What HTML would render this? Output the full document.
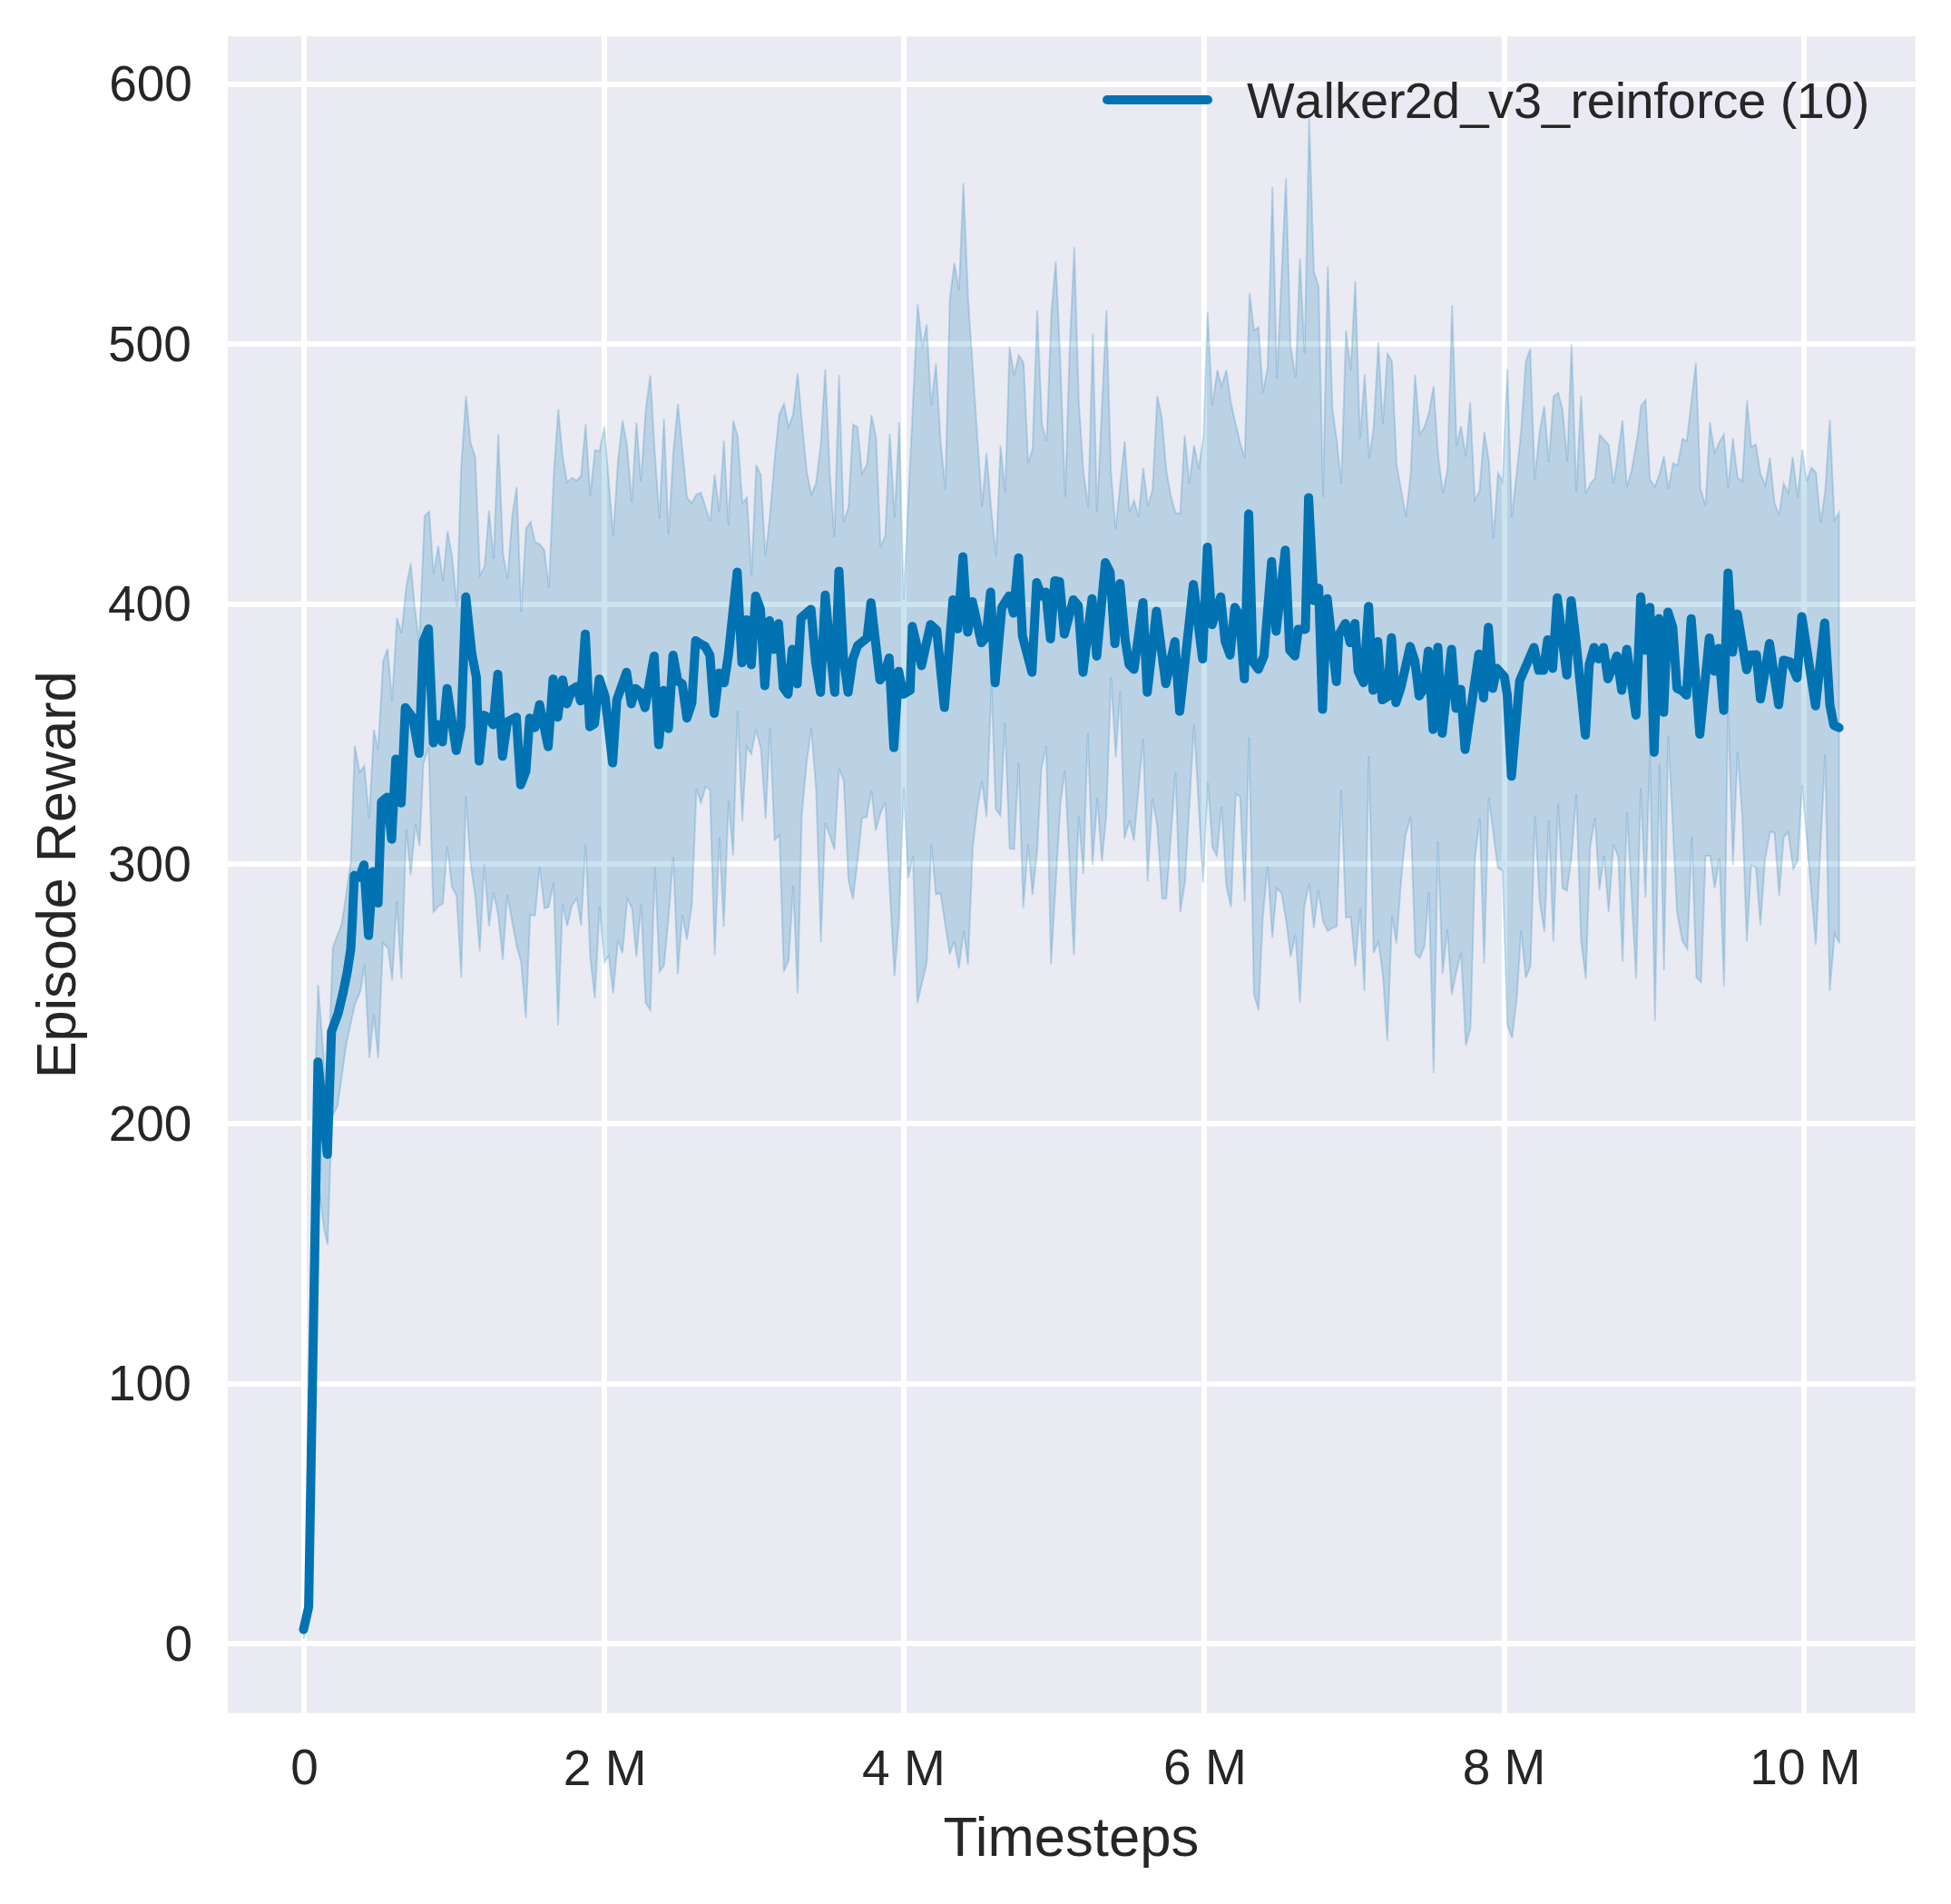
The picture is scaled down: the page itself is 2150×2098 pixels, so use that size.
<!DOCTYPE html>
<html><head><meta charset="utf-8"><style>
html,body{margin:0;padding:0;background:#fff;}
svg{display:block;}
text{font-family:"Liberation Sans",sans-serif;fill:#262626;}
</style></head><body>
<svg width="2150" height="2098" viewBox="0 0 2150 2098">
<rect x="251.0" y="40.1" width="1859.8" height="1847.6" fill="#EAEAF2"/>
<g fill="#fff"><rect x="251.0" y="1808" width="1859.80" height="6"/><rect x="251.0" y="1522" width="1859.80" height="6"/><rect x="251.0" y="1235" width="1859.80" height="6"/><rect x="251.0" y="949" width="1859.80" height="6"/><rect x="251.0" y="663" width="1859.80" height="6"/><rect x="251.0" y="376" width="1859.80" height="6"/><rect x="251.0" y="90" width="1859.80" height="6"/><rect x="332" y="40.1" width="6" height="1847.55"/><rect x="663" y="40.1" width="6" height="1847.55"/><rect x="993" y="40.1" width="6" height="1847.55"/><rect x="1324" y="40.1" width="6" height="1847.55"/><rect x="1655" y="40.1" width="6" height="1847.55"/><rect x="1985" y="40.1" width="6" height="1847.55"/></g>
<polygon points="334.7,1803.0 340.1,1775.0 345.5,1250.0 350.6,1085.0 360.5,1215.0 366.8,1044.0 376.2,1019.0 379.4,1000.0 381.5,985.0 386.5,950.0 391.0,821.7 396.3,851.0 401.5,843.8 406.8,901.6 412.0,803.9 416.6,826.0 422.2,728.6 427.1,714.9 432.1,772.7 437.4,681.1 442.5,697.7 447.6,646.9 452.7,620.9 456.8,666.8 461.9,708.7 467.9,568.6 473.0,563.5 477.8,632.6 482.9,601.7 488.2,640.3 493.2,585.2 498.3,613.8 503.6,669.0 508.0,519.0 513.5,436.3 518.6,488.1 523.7,503.5 529.0,633.7 534.1,623.8 538.9,562.7 544.0,616.0 549.1,478.2 554.4,610.5 559.4,638.1 564.3,569.7 569.4,536.6 574.4,674.5 579.7,581.9 584.8,575.2 589.7,597.3 594.7,599.5 599.8,606.1 604.9,648.0 610.2,523.4 615.2,451.0 620.1,503.5 625.0,531.7 630.3,526.4 635.5,529.6 640.3,524.3 645.4,467.6 650.4,546.4 655.7,496.0 660.7,497.0 666.0,470.3 670.8,529.6 675.8,590.5 681.1,506.5 686.1,463.4 691.2,491.8 696.2,553.7 701.3,465.5 706.3,530.6 711.6,451.8 716.6,413.6 721.6,498.1 726.7,572.0 731.7,461.3 736.8,589.5 742.0,498.1 747.1,445.1 752.1,496.0 757.1,548.5 762.2,554.4 767.4,544.9 772.5,542.8 777.5,559.0 782.6,574.7 787.6,522.9 792.6,563.8 797.7,485.5 802.7,578.9 808.0,463.4 813.0,481.3 818.1,554.4 823.1,548.1 828.2,633.6 833.4,512.4 838.4,523.3 843.5,613.2 848.5,567.4 853.6,506.5 858.6,456.7 863.9,445.1 868.9,470.3 873.9,457.1 879.0,411.5 884.0,467.6 889.1,520.1 894.1,544.9 899.2,532.7 904.4,490.7 909.4,406.7 914.5,521.2 919.5,591.6 924.6,413.0 929.7,575.2 935.0,559.0 940.1,467.7 945.0,470.7 950.0,522.0 955.4,511.6 960.4,457.3 965.5,482.7 970.4,602.9 975.5,590.2 980.5,478.1 985.9,570.6 991.0,465.4 995.8,661.0 1011.3,335.3 1016.4,382.2 1021.2,357.5 1026.3,446.9 1031.4,400.7 1036.7,487.4 1041.8,539.4 1046.6,330.2 1051.7,289.8 1056.8,319.8 1061.7,202.0 1066.8,327.9 1082.2,557.9 1087.1,498.9 1092.2,559.0 1097.5,613.3 1102.6,490.8 1107.7,542.8 1112.5,382.2 1117.6,413.4 1122.7,391.5 1128.0,399.5 1133.1,510.5 1137.9,494.3 1143.0,341.8 1148.3,467.7 1153.4,486.2 1158.5,346.4 1163.4,287.5 1168.4,394.9 1173.8,547.5 1178.8,383.4 1183.9,272.4 1188.8,441.2 1193.9,519.7 1199.2,559.0 1204.3,367.2 1208.9,564.8 1219.3,341.8 1224.2,518.3 1229.4,583.4 1239.4,486.2 1244.7,564.5 1249.7,551.4 1254.7,569.7 1259.9,515.7 1265.1,557.7 1270.1,539.3 1275.3,436.2 1280.3,459.9 1285.3,518.3 1290.3,546.6 1295.4,565.0 1300.6,566.1 1305.5,479.4 1310.7,533.2 1315.9,490.6 1320.9,516.6 1326.1,482.3 1330.8,344.0 1336.0,446.9 1341.5,407.9 1346.2,425.6 1351.4,407.9 1356.4,443.3 1361.6,467.0 1366.8,488.2 1371.7,504.8 1377.0,322.8 1381.9,364.1 1386.9,360.6 1391.8,432.7 1397.0,404.3 1402.2,205.7 1407.2,417.3 1417.1,196.3 1422.3,381.9 1427.8,416.1 1432.5,284.9 1437.7,389.0 1442.7,130.1 1447.9,299.1 1453.1,315.7 1458.0,547.4 1463.2,293.2 1468.4,450.4 1473.2,485.9 1478.1,533.2 1483.3,364.1 1488.5,407.9 1493.5,309.8 1498.7,483.5 1503.9,412.6 1508.9,504.8 1513.8,470.5 1518.9,377.1 1523.9,467.4 1529.0,389.7 1534.0,398.1 1539.0,511.5 1544.3,540.9 1549.3,569.3 1554.4,524.1 1559.4,412.8 1564.7,478.9 1569.7,470.5 1574.7,454.8 1579.8,425.4 1584.8,501.0 1590.1,543.0 1595.1,517.8 1600.2,336.1 1605.2,491.6 1610.0,469.5 1615.3,503.1 1620.1,443.2 1625.2,551.4 1630.4,540.9 1635.7,475.8 1640.7,507.3 1645.8,593.4 1650.8,521.0 1655.8,530.4 1661.1,406.5 1666.1,570.3 1676.2,475.8 1681.5,398.1 1686.3,384.4 1691.3,528.3 1696.6,475.8 1701.8,447.4 1706.7,509.4 1711.9,436.9 1717.2,432.7 1722.0,451.6 1727.1,508.4 1731.9,379.2 1737.1,542.0 1742.4,435.9 1747.6,544.1 1752.9,532.5 1757.7,527.3 1762.8,478.9 1772.9,490.5 1778.1,533.6 1782.9,501.0 1788.0,463.2 1792.8,536.7 1798.1,517.8 1805.0,477.9 1808.4,447.2 1813.4,440.5 1818.2,527.9 1823.5,536.3 1828.6,522.9 1833.6,502.7 1838.7,538.8 1843.7,510.3 1848.7,512.8 1854.1,483.4 1858.8,485.9 1868.9,399.8 1873.9,538.0 1879.5,557.3 1884.4,465.4 1889.4,498.5 1894.5,487.6 1899.7,478.8 1904.5,538.0 1909.6,482.9 1914.8,526.2 1920.0,530.4 1925.2,441.3 1929.9,492.6 1935.0,489.6 1940.0,522.0 1945.4,534.6 1950.4,504.4 1955.5,553.9 1960.5,567.9 1965.5,532.9 1970.6,543.0 1975.6,503.5 1981.0,548.9 1986.1,495.1 1991.1,530.4 1996.1,515.3 2001.2,520.8 2006.4,575.8 2011.4,540.5 2016.5,462.4 2021.5,573.3 2026.6,564.9 2026.8,1039.0 2021.7,1029.1 2016.4,1092.0 2011.3,830.7 2001.0,1041.2 1986.0,864.9 1981.1,948.6 1976.1,957.5 1970.5,916.7 1965.7,922.9 1960.6,987.2 1955.6,917.8 1950.7,916.2 1945.2,946.4 1940.0,1019.5 1935.0,955.8 1929.8,953.3 1925.0,1037.2 1920.0,899.5 1914.8,828.8 1909.7,953.3 1904.3,777.5 1899.9,1086.9 1894.8,945.1 1889.6,978.7 1884.7,943.0 1879.5,943.0 1874.7,1082.3 1869.4,1077.4 1864.4,922.0 1859.5,1046.0 1853.9,1036.5 1848.0,1005.0 1838.5,811.0 1833.7,1069.0 1828.7,842.6 1823.8,1124.7 1818.2,831.0 1813.3,989.2 1808.1,868.4 1803.0,1078.5 1792.9,894.7 1788.1,1059.6 1783.3,944.0 1778.0,930.4 1772.8,1005.0 1767.5,943.0 1762.5,980.8 1757.6,901.0 1752.4,933.5 1747.6,1078.5 1742.3,1036.5 1737.1,874.7 1731.8,945.1 1726.8,981.4 1721.9,978.7 1717.1,885.2 1711.8,1037.5 1706.8,904.1 1702.0,1027.0 1696.7,993.4 1691.5,899.9 1686.6,1064.8 1681.4,1077.4 1676.3,1024.9 1671.5,1100.5 1666.3,1143.6 1661.0,1128.9 1655.8,959.8 1650.5,955.6 1640.6,878.9 1635.5,1061.7 1630.7,901.0 1625.5,945.1 1620.6,1132.1 1615.4,1152.0 1610.1,1050.1 1605.1,1070.1 1599.8,1096.3 1595.0,1023.9 1589.7,1073.2 1584.5,926.8 1579.9,1182.5 1574.6,982.9 1569.8,1042.8 1564.5,1055.4 1559.7,1051.2 1554.5,899.9 1548.8,920.9 1543.9,972.4 1538.9,1039.6 1534.1,1009.2 1528.8,1146.8 1524.0,1075.3 1519.0,1037.5 1513.7,1050.1 1508.4,833.1 1503.6,1092.1 1498.8,1000.8 1493.5,1064.8 1488.5,1010.2 1483.2,1011.3 1478.0,870.5 1473.2,1020.7 1467.9,1022.8 1463.1,1026.0 1458.0,1015.5 1452.8,980.8 1447.9,1022.8 1442.7,973.4 1437.4,998.7 1432.6,1104.7 1427.6,1030.2 1422.3,1054.3 1417.5,1015.5 1412.2,984.0 1407.0,978.7 1402.1,1033.3 1396.9,954.5 1391.6,1011.3 1387.0,1113.2 1381.8,1095.3 1376.5,812.0 1371.7,993.4 1366.6,877.9 1361.8,874.7 1356.6,999.7 1351.3,975.5 1346.2,888.8 1341.0,943.0 1336.1,933.6 1331.1,862.6 1325.8,972.4 1315.8,798.5 1305.9,971.4 1300.6,1005.0 1295.4,851.0 1285.3,990.3 1280.7,990.3 1275.2,909.4 1270.0,880.0 1264.7,971.4 1259.7,814.2 1249.6,926.2 1244.7,904.2 1239.1,924.1 1234.5,761.7 1229.6,834.2 1224.4,746.0 1219.1,899.3 1214.3,949.3 1209.2,879.4 1204.0,953.5 1198.7,807.9 1193.9,963.0 1188.7,898.9 1183.4,1052.3 1173.5,848.9 1168.7,884.6 1158.2,1062.8 1152.9,821.6 1147.7,846.8 1142.9,938.8 1137.8,986.1 1133.0,930.4 1127.7,1000.8 1122.5,840.5 1117.6,935.7 1112.6,935.0 1107.4,796.4 1102.5,898.9 1097.3,891.6 1092.6,755.4 1087.2,900.0 1082.1,860.5 1077.3,888.8 1072.1,932.5 1066.8,1062.8 1062.0,1026.0 1056.7,1067.0 1051.6,1037.0 1046.6,1051.7 1041.5,1018.0 1036.5,984.5 1031.3,985.5 1026.4,929.8 1021.4,1060.1 1016.1,1083.0 1010.9,1105.3 1006.1,943.5 1000.8,967.6 996.0,868.9 990.7,1011.8 985.7,1075.8 980.5,980.0 975.6,883.6 970.3,896.2 965.1,915.1 960.3,871.0 955.0,900.4 950.0,901.5 945.1,948.7 939.9,990.8 935.0,969.7 929.8,860.5 924.7,846.8 919.5,936.1 914.5,921.0 909.4,906.7 904.6,1038.0 899.5,873.1 894.1,802.7 889.0,839.5 883.6,898.3 879.0,1094.7 874.1,976.0 869.1,1058.0 863.8,1070.6 859.0,920.4 853.7,925.6 848.5,802.7 843.7,902.5 838.6,825.8 833.2,803.8 827.9,831.1 822.9,822.7 818.0,904.6 812.8,782.8 807.9,942.4 802.9,882.6 797.6,1021.2 792.8,922.5 787.6,1052.7 782.3,870.0 777.7,866.8 772.4,884.7 767.6,868.9 762.4,997.0 757.0,1035.5 752.0,1008.2 746.9,1073.3 741.9,944.1 737.1,1007.1 731.8,1063.9 726.8,1070.6 721.7,955.7 716.7,1113.2 711.4,1104.8 706.6,996.6 701.3,1054.4 696.5,1000.8 691.3,990.3 686.0,1050.2 681.0,1035.5 675.7,1094.3 670.9,1052.9 666.0,1060.7 660.8,998.7 655.5,1099.6 650.5,1056.5 645.3,930.5 640.4,1019.7 635.6,989.9 630.3,997.7 625.1,1020.4 620.0,996.2 615.0,1130.0 610.0,972.5 604.7,999.4 599.9,1000.8 594.6,955.7 589.6,1008.8 584.3,1008.2 579.5,1121.6 574.2,1059.7 569.4,1042.9 564.2,1014.5 558.9,986.1 554.1,1057.6 549.0,1008.2 543.8,983.0 538.9,1020.8 533.7,952.5 528.7,1048.1 523.8,988.2 518.6,952.5 513.3,877.4 508.3,1077.5 503.2,987.2 498.0,977.7 492.9,932.6 488.1,995.6 482.9,998.7 477.6,1005.0 474.5,900.0 472.4,823.8 466.6,841.7 462.4,932.0 457.8,907.9 452.6,964.6 447.7,914.0 442.4,1078.4 437.2,993.0 432.2,1080.2 427.7,1045.0 422.0,1038.9 416.8,1166.0 411.9,1117.6 407.1,1166.0 401.8,1063.0 397.2,1092.0 391.0,1107.0 381.5,1151.0 372.0,1218.5 365.7,1231.0 361.1,1371.8 356.9,1353.0 351.0,1304.6 345.5,1420.0 340.1,1785.0 334.7,1806.0" fill="#0173B2" fill-opacity="0.2" stroke="#0173B2" stroke-opacity="0.2" stroke-width="2"/>
<polyline points="334.5,1795.6 340.1,1771.0 350.4,1170.2 360.7,1272.0 365.3,1136.6 372.5,1117.0 378.0,1094.0 382.5,1072.0 386.5,1046.0 388.5,1010.0 390.4,964.6 396.3,966.7 401.1,953.0 406.1,1030.8 411.0,960.4 416.6,995.0 420.4,883.7 426.7,878.4 431.6,924.7 436.2,836.4 442.1,884.7 446.7,779.7 455.1,791.3 461.8,830.1 466.5,707.0 472.1,693.0 477.6,818.5 482.9,798.6 487.5,817.5 492.7,758.7 502.8,826.9 508.1,800.7 513.3,657.8 520.0,720.8 524.9,746.0 528.0,838.5 533.3,788.1 538.5,791.2 543.4,798.6 548.6,742.9 553.7,833.2 559.1,795.4 569.0,790.2 573.8,864.7 579.5,850.0 583.7,791.2 589.4,801.7 594.6,776.5 604.1,822.7 609.5,748.2 614.6,790.2 620.0,749.2 624.7,775.5 630.3,759.7 635.6,756.6 639.8,772.3 645.0,698.8 649.9,800.7 655.1,797.5 660.4,748.2 666.7,767.1 675.1,840.6 679.7,771.3 690.4,740.8 695.7,775.5 700.3,758.7 705.5,762.9 710.8,779.7 720.9,722.9 725.9,820.6 731.4,760.8 736.6,802.8 741.7,721.9 746.9,750.3 751.8,753.4 757.0,791.2 762.4,774.4 766.6,706.1 771.8,709.2 777.1,712.4 782.3,721.8 787.1,785.9 792.4,741.8 798.1,752.3 802.7,721.8 812.4,630.5 817.6,730.3 822.6,683.0 827.9,732.4 832.7,656.7 838.0,671.4 842.8,755.5 847.9,684.0 852.7,715.5 857.9,687.2 863.2,757.6 868.4,764.9 873.1,715.5 878.5,753.4 882.7,680.9 893.7,671.4 898.9,730.3 904.2,762.8 909.4,655.7 914.7,715.5 919.9,762.8 924.5,629.4 929.4,723.9 934.6,762.8 939.9,726.1 945.1,711.3 950.4,707.1 955.6,702.9 959.8,664.1 969.7,749.2 975.0,742.9 979.8,725.0 985.0,823.7 990.3,739.7 995.5,764.9 1002.9,760.7 1005.4,690.3 1015.5,733.4 1025.4,688.2 1032.3,694.5 1040.7,779.6 1050.2,660.9 1055.5,692.9 1061.1,613.6 1066.4,696.6 1071.6,663.0 1081.5,708.2 1086.8,701.8 1091.6,652.5 1096.6,752.3 1104.0,669.3 1112.0,656.7 1116.8,675.6 1122.5,614.7 1126.7,700.8 1137.2,740.7 1142.4,642.0 1147.7,656.7 1152.5,652.5 1157.6,704.0 1162.4,639.9 1167.6,640.9 1172.9,698.7 1182.8,660.9 1188.2,667.2 1193.5,740.7 1203.4,659.8 1208.6,722.9 1218.1,619.9 1223.3,630.4 1228.6,709.2 1234.2,643.0 1240.1,706.1 1244.3,732.3 1249.6,737.6 1259.5,664.0 1264.3,762.8 1274.4,673.5 1284.7,753.3 1294.7,707.1 1300.0,783.8 1315.1,644.1 1325.2,726.0 1330.5,603.1 1335.7,688.2 1345.2,657.7 1350.0,706.0 1355.5,721.7 1360.8,669.2 1366.0,678.7 1371.3,748.0 1376.1,566.3 1380.7,729.1 1386.6,737.5 1392.9,722.8 1401.3,618.8 1406.3,695.5 1416.4,606.2 1421.3,716.5 1426.9,722.8 1430.7,693.4 1438.5,693.4 1442.1,548.4 1447.9,661.8 1453.2,648.2 1457.4,781.6 1462.6,659.7 1472.7,751.1 1475.3,699.7 1482.6,687.1 1487.9,708.1 1493.1,687.1 1496.7,739.6 1502.6,752.2 1508.2,668.2 1513.1,760.6 1518.3,707.0 1523.2,771.1 1528.8,767.9 1533.4,702.8 1538.3,774.2 1543.5,758.5 1554.0,712.3 1559.3,729.1 1563.9,766.9 1569.4,758.5 1574.0,717.5 1579.2,803.7 1584.5,713.3 1589.3,807.9 1599.6,715.4 1604.5,780.5 1609.7,759.5 1614.5,825.7 1629.7,720.7 1634.9,769.0 1640.2,691.3 1645.0,758.5 1649.5,736.5 1657.9,745.9 1661.0,765.9 1665.6,855.2 1674.7,750.1 1690.4,713.4 1695.7,738.6 1700.9,738.6 1705.5,705.0 1711.0,736.5 1716.1,658.7 1726.6,743.8 1731.4,661.9 1736.6,705.0 1747.1,810.0 1751.3,732.3 1756.6,713.4 1761.4,726.0 1767.1,713.4 1771.9,748.0 1781.8,722.8 1787.1,760.6 1792.7,715.5 1802.8,787.9 1808.1,657.7 1812.7,716.5 1818.2,669.2 1822.8,828.9 1828.0,681.8 1833.3,784.8 1838.1,674.5 1843.4,691.3 1848.0,758.5 1853.2,760.6 1858.5,765.9 1863.7,681.8 1873.2,809.0 1883.7,702.9 1889.0,739.6 1893.8,714.4 1899.5,782.7 1904.3,631.4 1909.3,718.6 1914.6,676.6 1924.8,738.0 1929.3,721.8 1935.6,721.5 1940.0,770.1 1950.0,709.1 1960.1,776.5 1965.4,727.4 1972.7,729.3 1980.3,746.9 1985.6,679.4 2000.7,777.8 2010.8,686.4 2016.5,776.5 2020.9,799.2 2026.6,801.8" fill="none" stroke="#0173B2" stroke-width="10" stroke-linejoin="round" stroke-linecap="round"/>
<line x1="1220" x2="1331" y1="110" y2="110" stroke="#0173B2" stroke-width="10" stroke-linecap="round"/>
<g font-size="55"><text x="211.9" y="111.33" text-anchor="end">600</text><text x="210.8" y="398.33" text-anchor="end">500</text><text x="210.8" y="684.23" text-anchor="end">400</text><text x="210.8" y="971.43" text-anchor="end">300</text><text x="211.4" y="1256.83" text-anchor="end">200</text><text x="210.8" y="1543.03" text-anchor="end">100</text><text x="212.0" y="1830.18" text-anchor="end">0</text><text x="335.5" y="1966" text-anchor="middle">0</text><text x="666.7" y="1967" text-anchor="middle">2 M</text><text x="995.9" y="1967" text-anchor="middle">4 M</text><text x="1327.9" y="1966" text-anchor="middle">6 M</text><text x="1657.6" y="1966" text-anchor="middle">8 M</text><text x="1989.5" y="1966" text-anchor="middle">10 M</text></g>
<text x="1374.00 1426.58 1458.61 1471.02 1498.91 1529.94 1547.83 1578.06 1609.59 1640.12 1668.02 1699.05 1730.58 1748.66 1779.69 1791.59 1822.33 1837.83 1869.16 1887.43 1915.34 1946.37 1961.87 1979.75 2010.78 2041.81" y="129.7" font-size="55.8">Walker2d_v3_reinforce (10)</text>
<text x="1180.4" y="2044.8" font-size="61.6" text-anchor="middle">Timesteps</text>
<text transform="translate(82.9,963.85) rotate(-90)" font-size="61.2" text-anchor="middle">Episode Reward</text>
</svg>
</body></html>
